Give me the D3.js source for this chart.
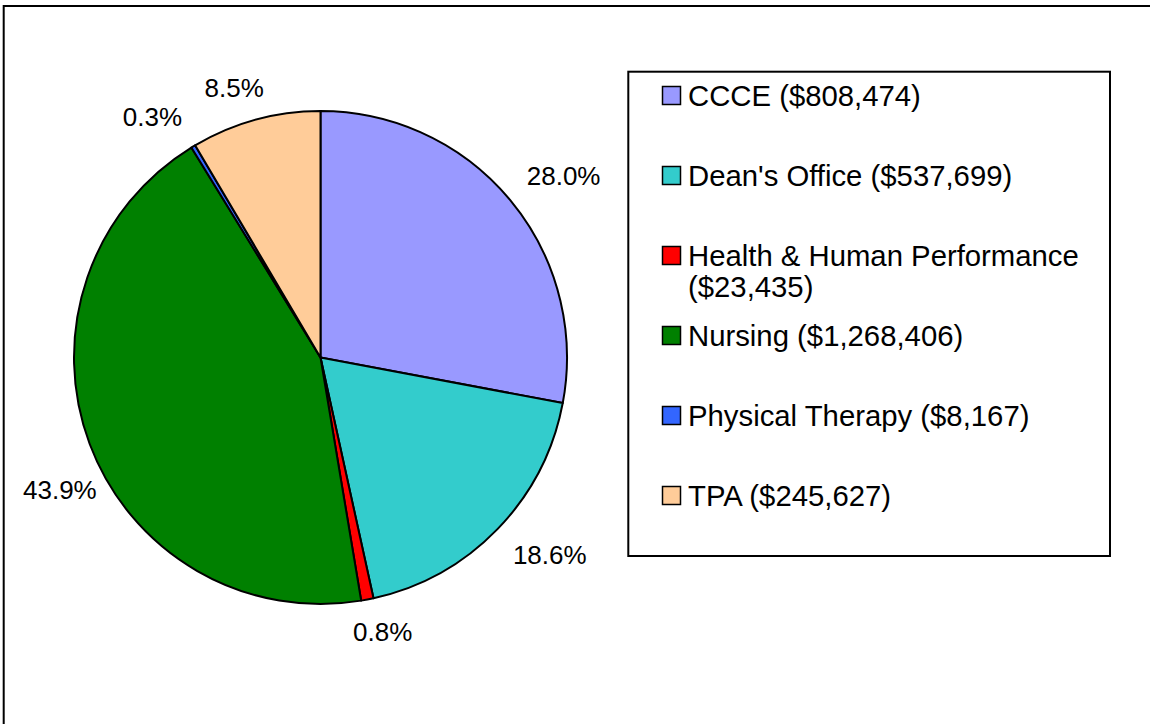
<!DOCTYPE html>
<html>
<head>
<meta charset="utf-8">
<script src="https://cdn.jsdelivr.net/npm/d3@7"></script>
<style>
  html, body { margin: 0; padding: 0; background: #fff; }
  svg { display: block; }
  text { font-family: "Liberation Sans", Arial, sans-serif; fill: #000; }
</style>
</head>
<body>
<svg id="chart" width="1150" height="724"></svg>
<script>
const categories = ["CCCE", "Dean's Office", "Health & Human Performance", "Nursing", "Physical Therapy", "TPA"];
const values = [808474, 537699, 23435, 1268406, 8167, 245627];
const colors = ["#9999FF", "#33CCCC", "#FF0000", "#008000", "#3366FF", "#FFCC99"];

const svg = d3.select("#chart");

// outer chart border (extends past right/bottom edges)
svg.append("rect")
  .attr("x", 3.7).attr("y", 6)
  .attr("width", 1170).attr("height", 740)
  .attr("fill", "#fff").attr("stroke", "#000").attr("stroke-width", 2);

const cx = 320.5, cy = 357.5, r = 246.5;
const total = d3.sum(values);
const data = categories.map((c, i) => ({ cat: c, value: values[i], color: colors[i] }));

const pie = d3.pie().sort(null).value(d => d.value);
const arcs = pie(data);
const arc = d3.arc().innerRadius(0).outerRadius(r);

const g = svg.append("g").attr("transform", `translate(${cx},${cy})`);
g.selectAll("path.slice")
  .data(arcs)
  .join("path")
  .attr("class", "slice")
  .attr("d", arc)
  .attr("fill", d => d.data.color)
  .attr("stroke", "#000")
  .attr("stroke-width", 2)
  .attr("stroke-linejoin", "round");

// percentage labels outside: anchor on a ring, box corner attached to it;
// kept inside the plot area on the left, then slid clear of the pie
const pct = d3.format(".1%");
const labelR = 268, hh = 11, plotLeft = 23, clearGap = 8.5, capHalf = 9.5;
const f = t => Math.max(-1, Math.min(1, t * 2));
g.selectAll("text.pct")
  .data(arcs)
  .join("text")
  .attr("class", "pct")
  .attr("font-size", 26)
  .attr("text-anchor", "middle")
  .text(d => pct(d.data.value / total))
  .each(function(d) {
    const a = (d.startAngle + d.endAngle) / 2;
    const s = Math.sin(a), c = Math.cos(a);
    const w = this.getComputedTextLength();
    let x = labelR * s + f(s) * w / 2;
    let y = -labelR * c - f(c) * hh;
    const minX = plotLeft - cx + w / 2;
    if (x < minX) {
      x = minX;
      const xEdge = x + w / 2;                // edge nearest the pie
      const R2 = (r + clearGap) ** 2 - xEdge * xEdge;
      if (R2 > 0) {
        const need = Math.sqrt(R2) + capHalf;
        if (c < 0) y = Math.max(y, need); else y = Math.min(y, -need);
      }
    }
    d3.select(this).attr("x", x).attr("y", y + 9.3);
  });

// legend
const lg = svg.append("g");
const box = { x0: 628.3, y0: 71.7, x1: 1110, y1: 556 };
lg.append("rect")
  .attr("x", box.x0).attr("y", box.y0)
  .attr("width", box.x1 - box.x0).attr("height", box.y1 - box.y0)
  .attr("fill", "#fff").attr("stroke", "#000").attr("stroke-width", 2);

const fmt = d3.format(",");
const yRow = d3.scalePoint().domain(categories).range([96, 496]);
const textX = 688, swX = 662.5, sw = 18;
const maxW = box.x1 - textX - 12;
const lineH = 31;

data.forEach(d => {
  const yc = yRow(d.cat);
  lg.append("rect")
    .attr("x", swX).attr("y", yc - sw / 2 - 0.5)
    .attr("width", sw).attr("height", sw)
    .attr("fill", d.color).attr("stroke", "#000").attr("stroke-width", 1.5);
  const label = `${d.cat} ($${fmt(d.value)})`;
  const t = lg.append("text")
    .attr("x", textX).attr("y", yc + 9.7)
    .attr("font-size", 29.3);
  const words = label.split(" ");
  let line = [];
  let tspan = t.append("tspan").attr("x", textX).attr("dy", 0);
  words.forEach(wd => {
    line.push(wd);
    tspan.text(line.join(" "));
    if (tspan.node().getComputedTextLength() > maxW && line.length > 1) {
      line.pop();
      tspan.text(line.join(" "));
      line = [wd];
      tspan = t.append("tspan").attr("x", textX).attr("dy", lineH).text(wd);
    }
  });
});
</script>
</body>
</html>
